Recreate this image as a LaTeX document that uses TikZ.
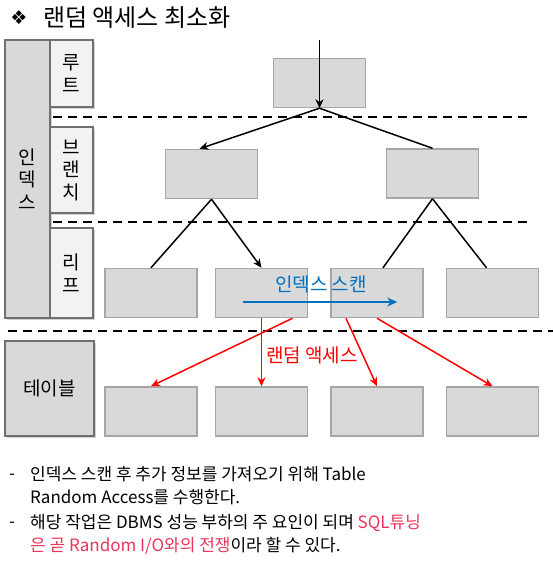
\documentclass[tikz,border=0pt]{standalone}
\usepackage{fontspec}
\setmainfont{Noto Sans CJK KR}
\newfontfamily\symfont{DejaVu Sans}
\usepackage{xcolor}
\definecolor{mygri1}{RGB}{217,217,217}
\definecolor{mygri2}{RGB}{242,242,242}
\definecolor{mygri3}{RGB}{166,166,166}
\definecolor{mydark}{RGB}{112,112,112}
\definecolor{myblue}{RGB}{0,112,192}
\definecolor{myred}{RGB}{255,0,0}
\definecolor{mypink}{RGB}{236,52,90}
\usetikzlibrary{positioning}
\usetikzlibrary{shapes.geometric, arrows, arrows.meta, calc, shadows}
\tikzstyle{block} = [rectangle, minimum width=92pt, minimum height=49pt, draw=mygri3, fill=mygri1, line width=1.5pt, inner sep=0pt]
\tikzstyle{level} = [rectangle, inner sep=0pt, draw=mydark, line width=1.8pt, fill=mygri2, align=center, font=\fontsize{19}{22.5}\selectfont, drop shadow={opacity=0.35, shadow xshift=1.5pt, shadow yshift=-1.5pt}]
\tikzstyle{sep} = [dashed, dash pattern=on 9pt off 6pt, line width=2pt, black]
\tikzstyle{link} = [line width=1.5pt, black]
\tikzstyle{down} = [link, -{Stealth[length=9pt,width=8pt]}]
\tikzstyle{rand} = [line width=1.5pt, myred, -{Stealth[length=9pt,width=8pt]}]
\tikzstyle{scan} = [line width=2pt, myblue, -{Stealth[length=10pt,width=9pt]}]
\tikzstyle{note} = [anchor=north west, inner sep=0pt, align=left, font=\fontsize{17}{23.5}\selectfont]

\begin{document}
\begin{tikzpicture}[x=1pt,y=-1pt]
	\useasboundingbox (0,0) rectangle (553,573);
	% title
	\node (bul)[anchor=center] at (19,18) {\symfont\fontsize{19}{19}\selectfont ❖};
	\node (title)[anchor=west, inner sep=0pt] at (43,18) {\fontsize{24}{24}\selectfont 랜덤 액세스 최소화};
	% left side labels
	\node (idx)[level, fill=mygri1, minimum width=45pt, minimum height=278pt] at (27.5,179) {인\\덱\\스};
	\node (rootlbl)[level, minimum width=43pt, minimum height=67pt] at (71.5,73.5) {루\\트};
	\node (brlbl)[level, minimum width=43pt, minimum height=86pt] at (71.5,170) {브\\랜\\치};
	\node (leaflbl)[level, minimum width=43pt, minimum height=90pt] at (71.5,273) {리\\프};
	\node (tbllbl)[level, fill=mygri1, minimum width=89pt, minimum height=95pt] at (49.5,388.5) {테이블};
	% level separators
	\draw [sep] (53,117) -- (532,117);
	\draw [sep] (53,222) -- (532,222);
	\draw [sep] (8,331) -- (553,331);
	% tree
	\node (root)[block] at (319.5,83) {};
	\node (brl)[block] at (211.5,174) {};
	\node (brr)[block] at (432.5,173.5) {};
	\node (lf1)[block] at (151,293) {};
	\node (lf2)[block, right=17pt of lf1] {};
	\node (lf3)[block, right=22pt of lf2] {};
	\node (lf4)[block, right=22pt of lf3] {};
	\node (tb1)[block, below=68pt of lf1] {};
	\node (tb2)[block, below=68pt of lf2] {};
	\node (tb3)[block, below=68pt of lf3] {};
	\node (tb4)[block, below=68pt of lf4] {};
	\coordinate (top) at (319.5,40);
	\draw [down] (top) -- (root.south);
	\draw [down] (root.south) -- ($(brl.north)+(-12,0)$);
	\draw [link] (root.south) -- (brr.north);
	\draw [link] (brl.south) -- (lf1.north);
	\draw [down] (brl.south) -- (lf2.north);
	\draw [link] (brr.south) -- ($(lf3.north)+(6,0)$);
	\draw [link] (brr.south) -- ($(lf4.north)+(-6,0)$);
	% index scan
	\coordinate (scana) at ($(lf2.west)+(28,9)$);
	\coordinate (scanb) at ($(lf3.west)+(67,9)$);
	\draw [scan] (scana) -- (scanb);
	\node (scanlbl)[text=myblue, font=\fontsize{19}{19}\selectfont] at (321,284) {인덱스 스캔};
	% random access
	\draw [rand] (lf2.south) -- (tb2.north);
	\draw [rand] ($(lf2.south)+(31,0)$) -- (tb1.north);
	\draw [rand] ($(lf3.south)+(-31,0)$) -- (tb3.north);
	\draw [rand] (lf3.south) -- (tb4.north);
	\node (randlbl)[text=myred, font=\fontsize{19}{19}\selectfont] at (312,355) {랜덤 액세스};
	% notes
	\node (dash1)[note, anchor=west] at (9,477) {-};
	\node (note1)[note] at (30,466) {인덱스 스캔 후 추가 정보를 가져오기 위해 Table\\Random Access를 수행한다.};
	\node (dash2)[note, anchor=west] at (9,525) {-};
	\node (note2)[note] at (30,514) {해당 작업은 DBMS 성능 부하의 주 요인이 되며 \textcolor{mypink}{SQL튜닝}\\\textcolor{mypink}{은 곧 Random I/O와의 전쟁}이라 할 수 있다.};
\end{tikzpicture}
\end{document}
